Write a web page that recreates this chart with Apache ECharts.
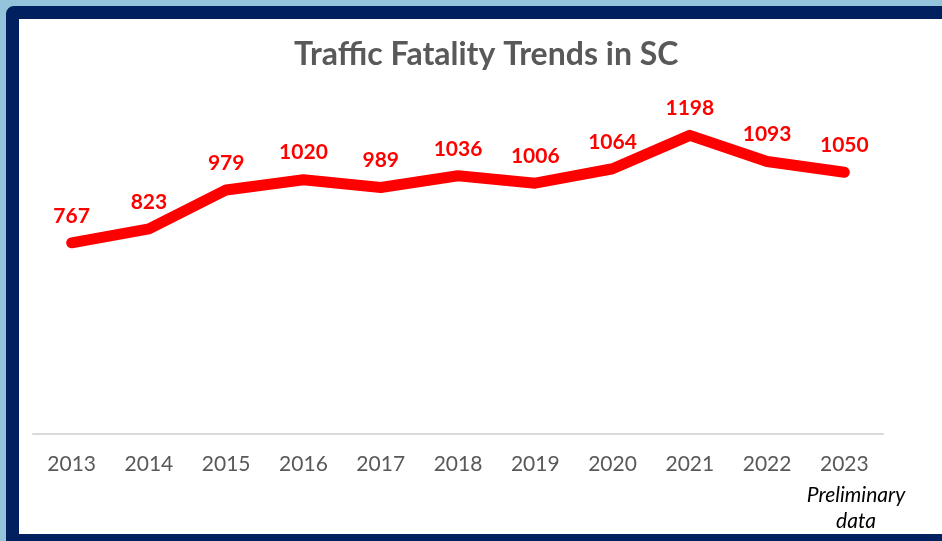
<!DOCTYPE html>
<html>
<head>
<meta charset="utf-8">
<script src="https://cdn.jsdelivr.net/npm/echarts@6/dist/echarts.min.js"></script>
<style>
  html, body { margin: 0; padding: 0; }
  body { width: 942px; height: 541px; background: #94c3dc; position: relative; overflow: hidden; }
  #frame {
    position: absolute; left: 6px; top: 6px; width: 960px; height: 541px;
    border: 13px solid #002060; border-radius: 8px 0 0 0; background: #fff;
    box-sizing: border-box;
  }
  #chart { position: absolute; left: 0; top: 0; width: 942px; height: 541px; }
</style>
</head>
<body>
<div id="frame"></div>
<div id="chart"></div>
<script>
const years = ["2013", "2014", "2015", "2016", "2017", "2018", "2019", "2020", "2021", "2022", "2023"];
const fatalities = [767, 823, 979, 1020, 989, 1036, 1006, 1064, 1198, 1093, 1050];
const titleText = "Traffic Fatality Trends in SC";
const noteText = "Preliminary\ndata";

const font = "Lato, 'Open Sans', sans-serif";

const chart = echarts.init(document.querySelector("#chart"));
chart.setOption({
  animation: false,
  backgroundColor: "transparent",
  title: {
    text: titleText,
    left: 289,
    top: 34,
    textStyle: { fontFamily: font, fontSize: 32, fontWeight: "bold", color: "#595959" }
  },
  grid: { left: 33, right: 59, top: 85, bottom: 107 },
  xAxis: {
    type: "category",
    data: years,
    boundaryGap: true,
    axisLine: { lineStyle: { color: "#d9d9d9", width: 2 } },
    axisTick: { show: false },
    axisLabel: { color: "#595959", fontFamily: font, fontSize: 21, margin: 20 }
  },
  yAxis: {
    type: "value",
    min: 0,
    max: 1400,
    show: false,
    splitLine: { show: false }
  },
  series: [{
    type: "line",
    data: fatalities,
    symbol: "circle",
    symbolSize: 1,
    itemStyle: { color: "#ff0000" },
    lineStyle: { color: "#ff0000", width: 11, cap: "round", join: "round" },
    label: {
      show: true,
      position: "top",
      distance: 16,
      color: "#ff0000",
      fontFamily: font,
      fontSize: 21,
      fontWeight: "bold"
    }
  }],
  graphic: [{
    type: "text",
    x: 856,
    y: 482,
    style: {
      text: noteText,
      font: "italic 21px " + font,
      fill: "#000",
      align: "center",
      lineHeight: 26
    }
  }]
});
</script>
</body>
</html>
